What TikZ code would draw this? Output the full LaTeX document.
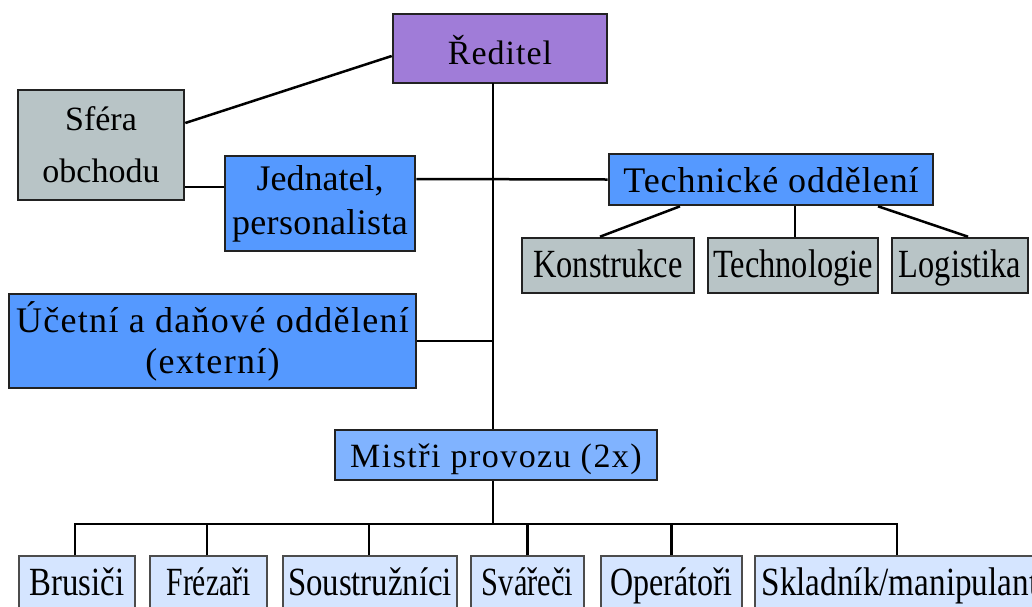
\documentclass[tikz,border=0pt]{standalone}
\usepackage{fontspec}
\setmainfont{Liberation Serif}
\definecolor{cpurple}{RGB}{160,124,216}
\definecolor{cgray}{RGB}{184,196,198}
\definecolor{cblue}{RGB}{85,153,255}
\definecolor{cmid}{RGB}{128,179,255}
\definecolor{clight}{RGB}{213,229,255}
\definecolor{cborder}{RGB}{34,34,34}
\newcommand{\ls}[1]{\addfontfeature{LetterSpace=#1}}
\newcommand{\fs}[1]{\addfontfeature{FakeStretch=#1}}
\begin{document}
\begin{tikzpicture}[x=1pt,y=-1pt,
  box/.style={draw=cborder,line width=2.6pt,inner sep=0pt,align=center,
    font=\fontsize{36}{44}\selectfont},
  tall/.style={font=\fontsize{40}{44}\selectfont},
  leaf/.style={draw=black!70,line width=1.5pt,fill=clight,inner sep=0pt,
    minimum height=52pt,text height=32pt,text depth=6pt,
    font=\fontsize{40}{44}\selectfont},
  conn/.style={line width=2.5pt,black}]
\useasboundingbox (0,0) rectangle (1032,606);
\clip (0,0) rectangle (1032,606);
\fill[white] (0,0) rectangle (1032,606);
% nodes
\node[box,fill=cpurple,minimum width=214pt,minimum height=69pt,text height=33pt,text depth=2pt,font=\fontsize{34}{40}\selectfont] (red) at (500,48.5) {\ls{3}Ředitel};
\node[box,fill=cgray,minimum width=166pt,minimum height=110pt,font=\fontsize{34}{52}\selectfont] (sfera) at (101,145) {Sféra\\obchodu};
\node[box,fill=cblue,minimum width=190pt,minimum height=95pt] (jed) at (320,203.5) {Jednatel,\\\ls{1}personalista};
\node[box,fill=cblue,minimum width=324pt,minimum height=51pt,text height=31pt,text depth=6pt] (tech) at (771,179.5) {\ls{2.6}Technické oddělení};
\node[box,tall,fill=cgray,minimum width=172pt,minimum height=55pt,text height=30pt,text depth=7pt] (kon) at (608,265.5) {\fs{0.81}Konstrukce};
\node[box,tall,fill=cgray,minimum width=170pt,minimum height=55pt,text height=30pt,text depth=7pt] (tlg) at (793,265.5) {\fs{0.81}Technologie};
\node[box,tall,fill=cgray,minimum width=136pt,minimum height=55pt,text height=30pt,text depth=7pt] (log) at (960,265.5) {\fs{0.81}Logistika};
\node[box,fill=cblue,minimum width=407pt,minimum height=94pt,font=\fontsize{36}{41}\selectfont] (ucet) at (212.5,341) {\ls{3.6}Účetní a daňové oddělení\\\ls{3.6}(externí)};
\node[box,fill=cmid,minimum width=322pt,minimum height=50pt,text height=30pt,text depth=6pt,font=\fontsize{34}{40}\selectfont] (mis) at (496,455) {\ls{4.3}Mistři provozu (2x)};
\node[leaf,minimum width=116pt] (bru) at (77,582) {\fs{0.82}Brusiči};
\node[leaf,minimum width=117pt] (fre) at (208.5,582) {\fs{0.74}Frézaři};
\node[leaf,minimum width=174pt] (sou) at (370,582) {\fs{0.82}Soustružníci};
\node[leaf,minimum width=113pt] (sva) at (527.5,582) {\fs{0.76}Svářeči};
\node[leaf,minimum width=141pt] (ope) at (671.5,582) {\fs{0.8}Operátoři};
\node[leaf,minimum width=290pt] (skl) at (900,582) {\fs{0.83}Skladník/manipulant};
% coordinates
\coordinate (trunk) at (493,83);
\coordinate (bus) at (493,524);
% connectors
\draw[conn] ([yshift=22pt]sfera.east) -- ([yshift=-7.5pt]red.west);
\draw[conn] ([yshift=-42pt]sfera.east) -- ([yshift=16.5pt]jed.west);
\draw[conn] ([yshift=24.5pt]jed.east) -- (tech.west);
\draw[conn] (trunk) -- (trunk |- mis.north);
\draw[conn] (ucet.east) -- (ucet.east -| trunk);
\draw[conn] ([xshift=-91pt]tech.south) -- ([xshift=-8pt]kon.north);
\draw[conn] ([xshift=24pt]tech.south) -- ([xshift=2pt]tlg.north);
\draw[conn] ([xshift=107pt]tech.south) -- ([xshift=8pt]log.north);
\draw[conn] (mis.south -| trunk) -- (bus);
\draw[conn] ([xshift=-2pt]bru.north) |- (bus) -| ([xshift=-3pt]skl.north);
\draw[conn] ([xshift=-1.5pt]fre.north) -- ([xshift=-1.5pt]fre.north |- bus);
\draw[conn] ([xshift=-1pt]sou.north) -- ([xshift=-1pt]sou.north |- bus);
\draw[conn] (sva.north) -- (sva.north |- bus);
\draw[conn] (ope.north) -- (ope.north |- bus);
\end{tikzpicture}
\end{document}
